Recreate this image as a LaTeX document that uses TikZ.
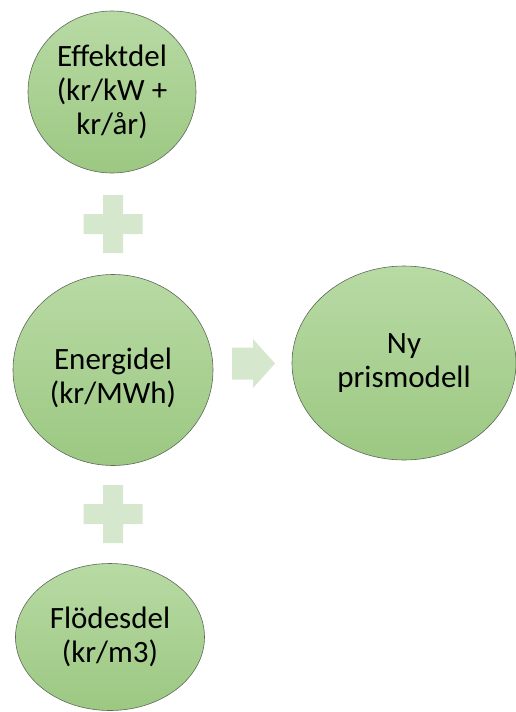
\documentclass[tikz,border=0pt]{standalone}
\usepackage{fontspec}
\setmainfont{Carlito}
\usetikzlibrary{shapes.geometric}
\definecolor{parttop}{HTML}{B8DAA4}
\definecolor{partbot}{HTML}{9CC882}
\definecolor{partline}{HTML}{5E6958}
\definecolor{signgreen}{HTML}{D5E7CC}
\newcommand{\lowertext}[2]{\raisebox{-#1}[\height][\depth]{\begin{tabular}{@{}c@{}}#2\end{tabular}}}
\tikzset{
    part/.style = {ellipse, draw=partline, line width=0.6pt,
        top color=parttop, bottom color=partbot,
        align=center, inner sep=0pt,
        font=\fontsize{31bp}{34bp}\selectfont},
    pics/plussign/.style = {
        code = {
        \fill [signgreen] (-10,-29) -- (10,-29) -- (10,-10) -- (29.5,-10)
            -- (29.5,10) -- (10,10) -- (10,29) -- (-10,29) -- (-10,10)
            -- (-29.5,10) -- (-29.5,-10) -- (-10,-10) -- cycle;
        }
    },
    pics/blockarrow/.style = {
        code = {
        \fill [signgreen] (0,-16) -- (21,-16) -- (21,-24.5) -- (43,0)
            -- (21,24.5) -- (21,16) -- (0,16) -- cycle;
        }
    }
}

\begin{document}
\begin{tikzpicture}[x=1bp,y=-1bp]
    \useasboundingbox (0,0) rectangle (516,712);

    \node[part, minimum width=168bp, minimum height=162bp] (effekt) at (112,92) {Effektdel\\(kr/kW +\\kr/år)};
    \node[part, minimum width=200bp, minimum height=191bp] (energi) at (113,370) {\lowertext{10bp}{Energidel\\(kr/MWh)}};
    \node[part, minimum width=224bp, minimum height=194bp] (ny) at (404,363) {Ny\\prismodell};
    \node[part, minimum width=189bp, minimum height=147bp] (flode) at (110,637) {Flödesdel\\(kr/m3)};

    \path pic at (113,224) {plussign};
    \path pic at (113,514) {plussign};
    \path pic at (232,363.5) {blockarrow};

\end{tikzpicture}
\end{document}
